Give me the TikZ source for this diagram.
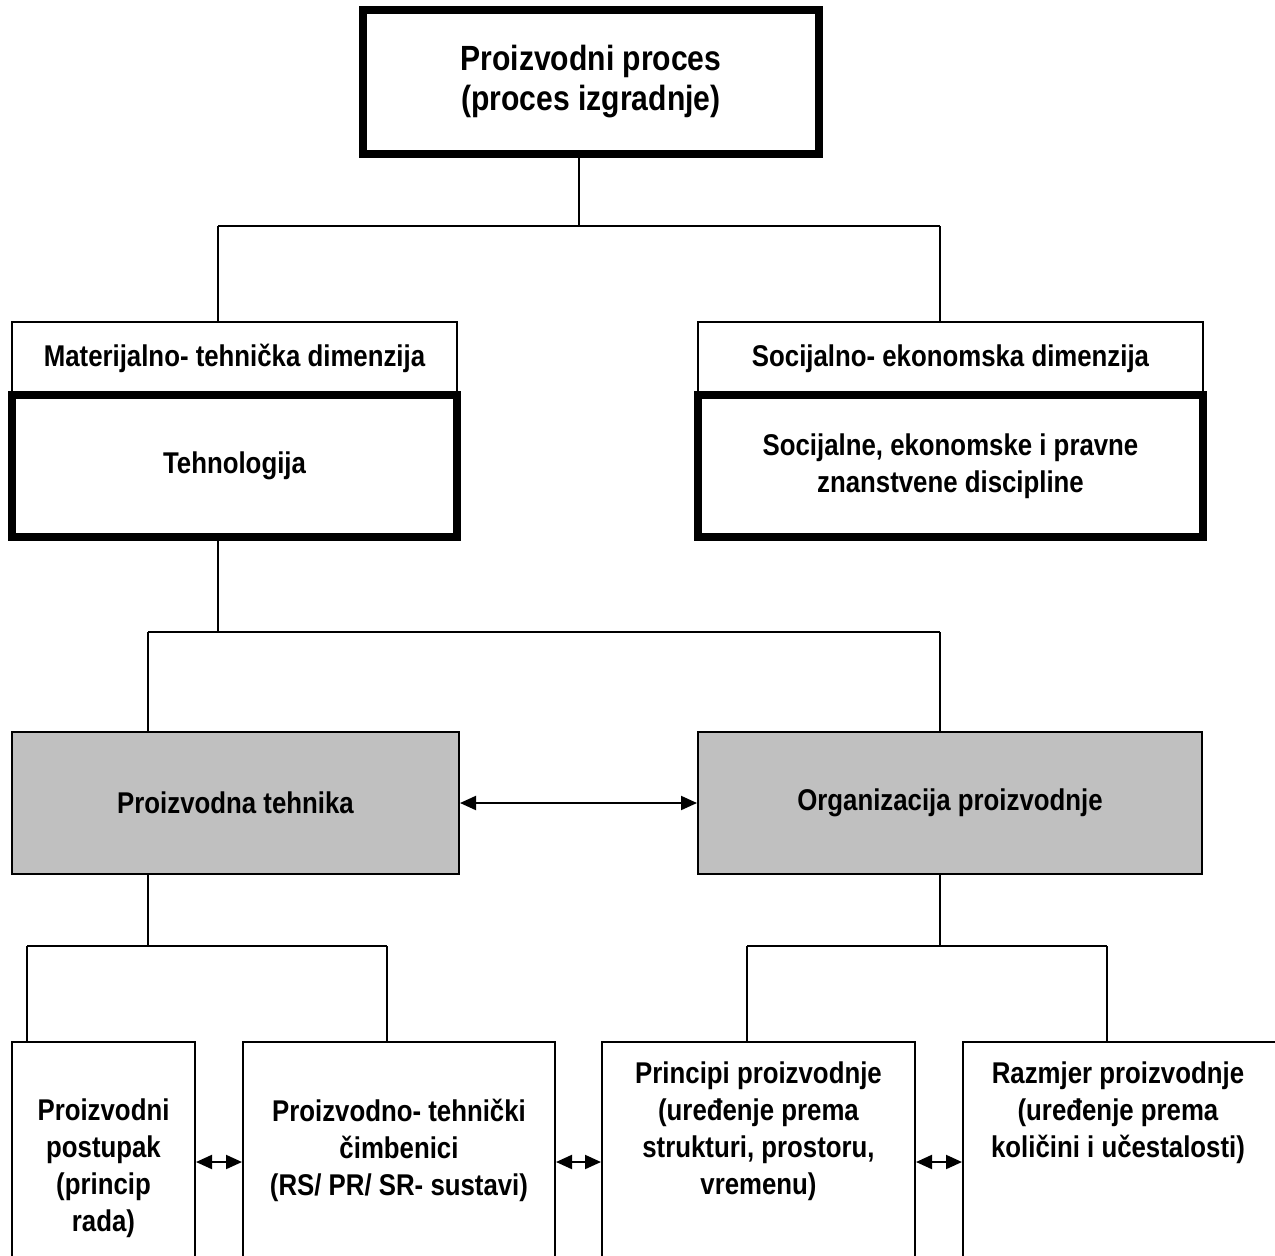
\documentclass[tikz,border=0pt]{standalone}
\usepackage{fontspec}
\setmainfont{Liberation Sans}[FakeStretch=0.86]
\usetikzlibrary{arrows.meta}
\definecolor{boxgray}{RGB}{192,192,192}
\begin{document}
\begin{tikzpicture}[x=1pt,y=-1pt,
  every node/.style={align=center, inner sep=0pt, font=\bfseries\fontsize{30}{37}\selectfont},
  bigtext/.style={font=\bfseries\fontsize{35}{40}\selectfont},
  thinbox/.style={draw, line width=2pt},
  thickbox/.style={draw, line width=8pt},
  graybox/.style={draw, line width=2pt, fill=boxgray},
  link/.style={line width=2pt},
  dblarrow/.style={line width=2pt, {Triangle[length=16pt,width=14pt]}-{Triangle[length=16pt,width=14pt]}}]
\clip (0,0) rectangle (1275,1256);
\fill[white] (0,0) rectangle (1275,1256);

% top level
\node[thickbox, bigtext, minimum width=456, minimum height=144] (top) at (591,82)
  {Proizvodni proces\\(proces izgradnje)};

% dimensions
\node[thinbox, minimum width=445, minimum height=72.5] (mdim) at (234.5,358.25)
  {Materijalno- tehnička dimenzija};
\node[thickbox, minimum width=445, minimum height=142.5] (tech) at (234.5,465.75)
  {Tehnologija};
\node[thinbox, minimum width=505, minimum height=72.5] (sdim) at (950.5,358.25)
  {Socijalno- ekonomska dimenzija};
\node[thickbox, minimum width=505, minimum height=142.5] (disc) at (950.5,465.75)
  {Socijalne, ekonomske i pravne\\znanstvene discipline};

% technology split
\node[graybox, minimum width=447, minimum height=142] (ptech) at (235.5,803)
  {Proizvodna tehnika};
\node[graybox, minimum width=504, minimum height=142] (org) at (950,803)
  {Organizacija proizvodnje};

% bottom level boxes (open towards the bottom edge)
\node[thinbox, minimum width=183, minimum height=258] (b1) at (103.5,1171) {};
\node[thinbox, minimum width=312, minimum height=258] (b2) at (399,1171) {};
\node[thinbox, minimum width=313, minimum height=258] (b3) at (758.5,1171) {};
\node[thinbox, minimum width=327, minimum height=258] (b4) at (1126.5,1171) {};

\node (t1) at (103.5,1168) {Proizvodni\\postupak\\(princip\\rada)};
\node (t2) at (399,1150) {Proizvodno- tehnički\\čimbenici\\(RS/ PR/ SR- sustavi)};
\node (t3) at (758.5,1131) {Principi proizvodnje\\(uređenje prema\\strukturi, prostoru,\\vremenu)};
\node (t4) at (1118,1113) {Razmjer proizvodnje\\(uređenje prema\\količini i učestalosti)};

% junction points of the tree connectors
\coordinate (j1L) at (218,226);
\coordinate (j1R) at (940,226);
\coordinate (j1) at (579,226);
\coordinate (j2) at (218,632);
\coordinate (j2L) at (148,632);
\coordinate (j2R) at (940,632);
\coordinate (j3L) at (27,946);
\coordinate (j3R) at (387,946);
\coordinate (j3) at (148,946);
\coordinate (j4L) at (747,946);
\coordinate (j4R) at (1107,946);
\coordinate (j4) at (940,946);
\coordinate (arr) at (0,1162);

\draw[link] (j1 |- top.south) -- (j1);
\draw[link] (j1L) -- (j1R);
\draw[link] (j1L) -- (j1L |- mdim.north);
\draw[link] (j1R) -- (j1R |- sdim.north);

\draw[link] (j2 |- tech.south) -- (j2);
\draw[link] (j2L) -- (j2R);
\draw[link] (j2L) -- (j2L |- ptech.north);
\draw[link] (j2R) -- (j2R |- org.north);

\draw[link] (j3 |- ptech.south) -- (j3);
\draw[link] (j3L) -- (j3R);
\draw[link] (j3L) -- (j3L |- b1.north);
\draw[link] (j3R) -- (j3R |- b2.north);

\draw[link] (j4 |- org.south) -- (j4);
\draw[link] (j4L) -- (j4R);
\draw[link] (j4L) -- (j4L |- b3.north);
\draw[link] (j4R) -- (j4R |- b4.north);

% relations
\draw[dblarrow] (ptech.east) -- (org.west);
\draw[dblarrow] (b1.east |- arr) -- (b2.west |- arr);
\draw[dblarrow] (b2.east |- arr) -- (b3.west |- arr);
\draw[dblarrow] (b3.east |- arr) -- (b4.west |- arr);
\end{tikzpicture}
\end{document}
